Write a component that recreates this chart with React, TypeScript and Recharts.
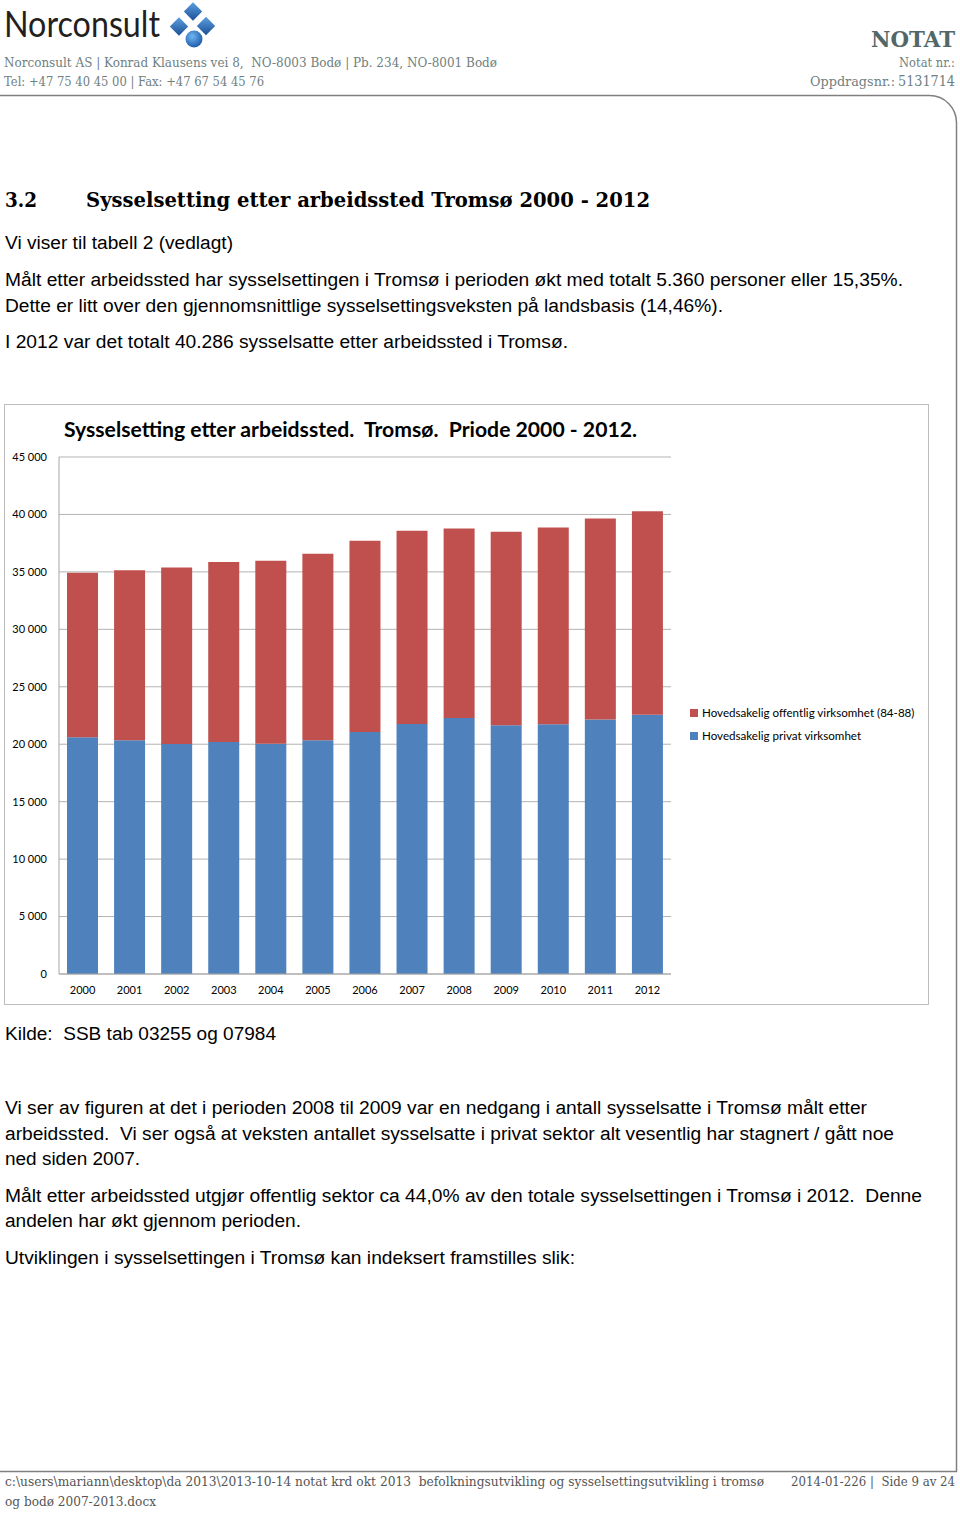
import React from 'react';
import { BarChart, Bar, XAxis, YAxis, CartesianGrid, Legend } from 'recharts';

// Sysselsetting etter arbeidssted, Tromsø 2000-2012
const years = ['2000', '2001', '2002', '2003', '2004', '2005', '2006', '2007', '2008', '2009', '2010', '2011', '2012'];
const privat = [20600, 20340, 20020, 20190, 20050, 20340, 21065, 21760, 22280, 21650, 21735, 22145, 22560];
const offentlig = [14326, 14810, 15365, 15680, 15910, 16230, 16635, 16810, 16500, 16835, 17135, 17505, 17726];
const yTicks = [0, 5000, 10000, 15000, 20000, 25000, 30000, 35000, 40000, 45000];

const PRIVAT_NAME = 'Hovedsakelig privat virksomhet';
const OFFENTLIG_NAME = 'Hovedsakelig offentlig virksomhet (84-88)';

const data = years.map((year, i) => ({ year, privat: privat[i], offentlig: offentlig[i] }));

const fmt = (v: number) => String(v).replace(/\B(?=(\d{3})+(?!\d))/g, ' ');

const SANS = '"Liberation Sans", Arial, sans-serif';
const SLAB = '"DejaVu Serif", serif';
const CAL = 'Lato, "Open Sans", sans-serif';

// one line of page text, stretched to the width it has in the scan
const T = ({ x, y, w, size = 18, family = SANS, weight = 400, fill = '#000', children }: any) => (
    <text
        x={x}
        y={y}
        fontSize={size}
        fontFamily={family}
        fontWeight={weight}
        fill={fill}
        textLength={w}
        lengthAdjust="spacingAndGlyphs"
        style={{ whiteSpace: 'pre' }}
    >
        {children}
    </text>
);

const renderLegend = (props: any) => {
    const items = [...(props.payload || [])];
    // Excel lists the top of the stack first
    items.sort((a: any, b: any) => (a.value === OFFENTLIG_NAME ? -1 : b.value === OFFENTLIG_NAME ? 1 : 0));
    return (
        <ul style={{ listStyle: 'none', margin: 0, padding: 0 }}>
            {items.map((entry: any, i: number) => (
                <li
                    key={`leg-${i}`}
                    style={{ display: 'flex', alignItems: 'center', height: 23, fontFamily: CAL, fontSize: 11.6, color: '#000', whiteSpace: 'nowrap' }}
                >
                    <span style={{ display: 'inline-block', width: 8, height: 8, background: entry.color, marginRight: 4 }} />
                    {entry.value}
                </li>
            ))}
        </ul>
    );
};

const GREY = '#6f8080';

const App: React.FC = () => {
    return (
        <div style={{ position: 'relative', width: 960, height: 1513, background: '#fff', overflow: 'hidden' }}>
            <style>{'body{margin:0}'}</style>

            {/* chart frame */}
            <div
                style={{ position: 'absolute', left: 4, top: 404, width: 925, height: 601, border: '1px solid #bdbdbd', boxSizing: 'border-box' }}
            />

            <div style={{ position: 'absolute', left: 4, top: 404 }}>
                <BarChart width={925} height={601} data={data} margin={{ top: 53, right: 258, bottom: 1, left: 5 }}>
                    <CartesianGrid vertical={false} stroke="#b3b3b3" />
                    <XAxis
                        dataKey="year"
                        height={30}
                        tickLine={false}
                        tickSize={0}
                        tickMargin={12}
                        axisLine={{ stroke: '#a6a6a6' }}
                        tick={{ fontFamily: CAL, fontSize: 11, fill: '#000' }}
                        interval={0}
                    />
                    <YAxis
                        width={50}
                        domain={[0, 45000]}
                        ticks={yTicks}
                        tickFormatter={fmt}
                        tickLine={false}
                        tickSize={0}
                        tickMargin={12}
                        axisLine={{ stroke: '#a6a6a6' }}
                        tick={{ fontFamily: CAL, fontSize: 11, fill: '#000' }}
                    />
                    <Legend
                        layout="horizontal"
                        verticalAlign="middle"
                        align="center"
                        content={renderLegend}
                        wrapperStyle={{ left: 686, top: 297, width: 240, height: 46 }}
                    />
                    <Bar dataKey="privat" name={PRIVAT_NAME} stackId="a" fill="#4F81BD" barSize={31} isAnimationActive={false} />
                    <Bar dataKey="offentlig" name={OFFENTLIG_NAME} stackId="a" fill="#C0504D" barSize={31} isAnimationActive={false} />
                </BarChart>
            </div>

            <svg
                width={960}
                height={1513}
                style={{ position: 'absolute', left: 0, top: 0, pointerEvents: 'none' }}
            >
                <defs>
                    <linearGradient id="blue" x1="0" y1="0" x2="1" y2="1">
                        <stop offset="0" stopColor="#5aa0e0" />
                        <stop offset="1" stopColor="#1c4f96" />
                    </linearGradient>
                    <radialGradient id="ball" cx="0.4" cy="0.35" r="0.7">
                        <stop offset="0" stopColor="#6fb6f0" />
                        <stop offset="1" stopColor="#1a56a8" />
                    </radialGradient>
                </defs>

                {/* letterhead */}
                <T x={4} y={37} w={156} size={36} family={CAL} fill="#231f20">Norconsult</T>
                <rect x={186.5} y={5} width={13} height={13} fill="url(#blue)" transform="rotate(45 193 11.5)" />
                <rect x={172.5} y={20} width={13} height={13} fill="url(#blue)" transform="rotate(45 179 26.5)" />
                <rect x={199.5} y={19.5} width={13} height={13} fill="url(#blue)" transform="rotate(45 206 26)" />
                <circle cx={194} cy={39} r={8.5} fill="url(#ball)" />

                <T x={4} y={67} w={493} size={12.5} family={SLAB} fill={GREY}>
                    Norconsult AS | Konrad Klausens vei 8,  NO-8003 Bodø | Pb. 234, NO-8001 Bodø
                </T>
                <T x={4} y={86} w={260} size={12.5} family={SLAB} fill={GREY}>Tel: +47 75 40 45 00 | Fax: +47 67 54 45 76</T>

                <T x={871} y={47} w={84} size={23} family={SLAB} weight={700} fill="#526767">NOTAT</T>
                <T x={899} y={67} w={56} size={12.5} family={SLAB} fill={GREY}>Notat nr.:</T>
                <T x={810} y={86} w={85} size={12.5} family={SLAB} fill={GREY}>Oppdragsnr.:</T>
                <T x={898} y={86} w={57} size={15} family={SLAB} fill={GREY}>5131714</T>

                <path
                    d="M0 95.5 H929.5 A27 27 0 0 1 956.5 122.5 V1471.5 H0"
                    fill="none"
                    stroke="#808080"
                    strokeWidth={1.5}
                />

                {/* section text */}
                <T x={5} y={207} w={32} size={21} family={SLAB} weight={700}>3.2</T>
                <T x={86} y={207} w={564} size={21} family={SLAB} weight={700}>
                    Sysselsetting etter arbeidssted Tromsø 2000 - 2012
                </T>
                <T x={5} y={248.5} w={228}>Vi viser til tabell 2 (vedlagt)</T>
                <T x={5} y={285.5} w={898}>
                    Målt etter arbeidssted har sysselsettingen i Tromsø i perioden økt med totalt 5.360 personer eller 15,35%.
                </T>
                <T x={5} y={311.5} w={718}>
                    Dette er litt over den gjennomsnittlige sysselsettingsveksten på landsbasis (14,46%).
                </T>
                <T x={5} y={347.5} w={563}>I 2012 var det totalt 40.286 sysselsatte etter arbeidssted i Tromsø.</T>

                {/* chart title */}
                <T x={64} y={437} w={573} size={20} family={CAL} weight={700}>
                    Sysselsetting etter arbeidssted.  Tromsø.  Priode 2000 - 2012.
                </T>

                <T x={5} y={1039.5} w={271}>Kilde:  SSB tab 03255 og 07984</T>
                <T x={5} y={1113.5} w={862}>
                    Vi ser av figuren at det i perioden 2008 til 2009 var en nedgang i antall sysselsatte i Tromsø målt etter
                </T>
                <T x={5} y={1139.5} w={889}>
                    arbeidssted.  Vi ser også at veksten antallet sysselsatte i privat sektor alt vesentlig har stagnert / gått noe
                </T>
                <T x={5} y={1164.5} w={135}>ned siden 2007.</T>
                <T x={5} y={1201.5} w={917}>
                    Målt etter arbeidssted utgjør offentlig sektor ca 44,0% av den totale sysselsettingen i Tromsø i 2012.  Denne
                </T>
                <T x={5} y={1226.5} w={296}>andelen har økt gjennom perioden.</T>
                <T x={5} y={1263.5} w={570}>Utviklingen i sysselsettingen i Tromsø kan indeksert framstilles slik:</T>

                {/* footer */}
                <T x={5} y={1485.5} w={759} size={12} family={SLAB} fill="#555">
                    c:\users\mariann\desktop\da 2013\2013-10-14 notat krd okt 2013  befolkningsutvikling og sysselsettingsutvikling i tromsø
                </T>
                <T x={791} y={1485.5} w={164} size={12} family={SLAB} fill="#555">2014-01-226 |  Side 9 av 24</T>
                <T x={5} y={1505.5} w={151} size={12} family={SLAB} fill="#555">og bodø 2007-2013.docx</T>
            </svg>
        </div>
    );
};

export default App;
